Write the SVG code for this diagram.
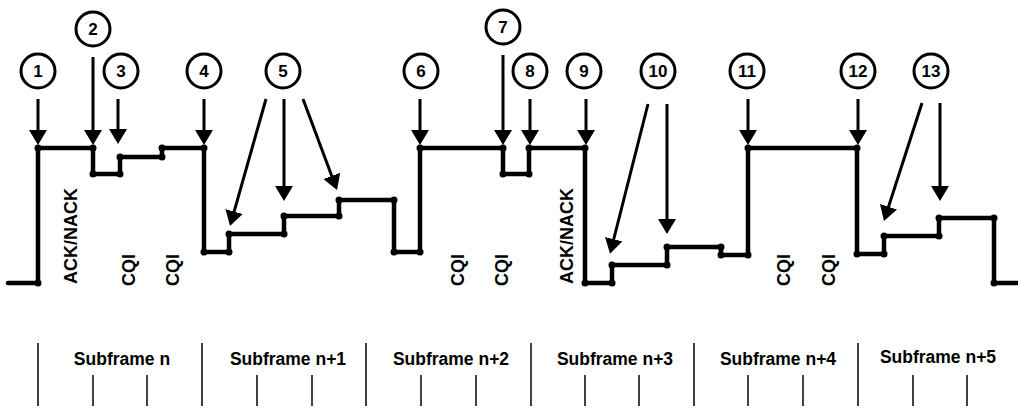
<svg xmlns="http://www.w3.org/2000/svg" width="1018" height="408" viewBox="0 0 1018 408">
<defs>
<style>
.bg{fill:#ffffff}
.wave{fill:none;stroke:#000;stroke-width:4.5;stroke-linejoin:round;stroke-linecap:round}
.dot{fill:#000}
.arr{stroke:#000;stroke-width:3;fill:none;marker-end:url(#ah)}
.circ{fill:#fff;stroke:#000;stroke-width:3}
.num{font-family:"Liberation Sans",Arial,sans-serif;font-weight:bold;font-size:17px;text-anchor:middle;fill:#000}
.vt{font-family:"Liberation Sans",Arial,sans-serif;font-weight:bold;font-size:18px;text-anchor:middle;fill:#000}
.sf{font-family:"Liberation Sans",Arial,sans-serif;font-weight:bold;font-size:17.5px;text-anchor:middle;fill:#000}
.tick{stroke:#000;stroke-width:1.5}
</style>
<marker id="ah" viewBox="0 0 15 18" refX="7" refY="9" markerWidth="15" markerHeight="18" markerUnits="userSpaceOnUse" orient="auto">
<path d="M0,0 L15,9 L0,18 z" fill="#000"/>
</marker>
</defs>
<rect class="bg" x="0" y="0" width="1018" height="408"/>

<g id="waveform">
<polyline class="wave" points="8,283 38,283 38,148 93,148 93,174 120,174 120,157 162,157 162,148 204,148 204,252 229,252 229,234 284,234 284,216 339,216 339,200 394,200 394,252 420,252 420,148 503,148 503,174 529,174 529,148 585,148 585,283 612,283 612,265 667,265 667,247 721,247 721,255 748,255 748,148 857,148 857,254 884,254 884,236 939,236 939,218 994,218 994,283 1020,283"/>
<g class="dot">
<circle cx="38" cy="283" r="3.5"/><circle cx="38" cy="148" r="3.5"/><circle cx="93" cy="148" r="3.5"/><circle cx="93" cy="174" r="3.5"/><circle cx="120" cy="174" r="3.5"/><circle cx="120" cy="157" r="3.5"/><circle cx="162" cy="157" r="3.5"/><circle cx="162" cy="148" r="3.5"/><circle cx="204" cy="148" r="3.5"/><circle cx="204" cy="252" r="3.5"/><circle cx="229" cy="252" r="3.5"/><circle cx="229" cy="234" r="3.5"/><circle cx="284" cy="234" r="3.5"/><circle cx="284" cy="216" r="3.5"/><circle cx="339" cy="216" r="3.5"/><circle cx="339" cy="200" r="3.5"/><circle cx="394" cy="200" r="3.5"/><circle cx="394" cy="252" r="3.5"/><circle cx="420" cy="252" r="3.5"/><circle cx="420" cy="148" r="3.5"/><circle cx="503" cy="148" r="3.5"/><circle cx="503" cy="174" r="3.5"/><circle cx="529" cy="174" r="3.5"/><circle cx="529" cy="148" r="3.5"/><circle cx="585" cy="148" r="3.5"/><circle cx="585" cy="283" r="3.5"/><circle cx="612" cy="283" r="3.5"/><circle cx="612" cy="265" r="3.5"/><circle cx="667" cy="265" r="3.5"/><circle cx="667" cy="247" r="3.5"/><circle cx="721" cy="247" r="3.5"/><circle cx="721" cy="255" r="3.5"/><circle cx="748" cy="255" r="3.5"/><circle cx="748" cy="148" r="3.5"/><circle cx="857" cy="148" r="3.5"/><circle cx="857" cy="254" r="3.5"/><circle cx="884" cy="254" r="3.5"/><circle cx="884" cy="236" r="3.5"/><circle cx="939" cy="236" r="3.5"/><circle cx="939" cy="218" r="3.5"/><circle cx="994" cy="218" r="3.5"/><circle cx="994" cy="283" r="3.5"/>
</g>
</g>

<g id="connectors">
<line class="arr" x1="38" y1="99" x2="38" y2="137"/>
<line class="arr" x1="93" y1="57" x2="93" y2="137"/>
<line class="arr" x1="118" y1="99" x2="118" y2="136"/>
<line class="arr" x1="204" y1="99" x2="204" y2="137"/>
<line class="arr" x1="266" y1="99" x2="232.2" y2="218.3"/>
<line class="arr" x1="284" y1="99" x2="284" y2="193"/>
<line class="arr" x1="303" y1="99" x2="334.2" y2="182.5"/>
<line class="arr" x1="420" y1="99" x2="420" y2="137"/>
<line class="arr" x1="503" y1="55" x2="503" y2="137"/>
<line class="arr" x1="530" y1="99" x2="530" y2="137"/>
<line class="arr" x1="586" y1="99" x2="586" y2="137"/>
<line class="arr" x1="648" y1="104" x2="612" y2="246"/>
<line class="arr" x1="667" y1="104" x2="667" y2="226"/>
<line class="arr" x1="748" y1="99" x2="748" y2="137"/>
<line class="arr" x1="858" y1="99" x2="858" y2="137"/>
<line class="arr" x1="922" y1="103" x2="886.4" y2="213.4"/>
<line class="arr" x1="940" y1="103" x2="940" y2="193"/>
</g>

<g id="node1"><circle class="circ" cx="38" cy="71" r="17"/><text class="num" x="38" y="77">1</text></g>
<g id="node2"><circle class="circ" cx="93" cy="29" r="17"/><text class="num" x="93" y="35">2</text></g>
<g id="node3"><circle class="circ" cx="121" cy="71" r="17"/><text class="num" x="121" y="77">3</text></g>
<g id="node4"><circle class="circ" cx="204" cy="71" r="17"/><text class="num" x="204" y="77">4</text></g>
<g id="node5"><circle class="circ" cx="283" cy="71" r="17"/><text class="num" x="283" y="77">5</text></g>
<g id="node6"><circle class="circ" cx="421" cy="71" r="17"/><text class="num" x="421" y="77">6</text></g>
<g id="node7"><circle class="circ" cx="503" cy="27" r="17"/><text class="num" x="503" y="33">7</text></g>
<g id="node8"><circle class="circ" cx="530" cy="71" r="17"/><text class="num" x="530" y="77">8</text></g>
<g id="node9"><circle class="circ" cx="584" cy="71" r="17"/><text class="num" x="584" y="77">9</text></g>
<g id="node10"><circle class="circ" cx="658" cy="71" r="17"/><text class="num" x="658" y="77">10</text></g>
<g id="node11"><circle class="circ" cx="747" cy="71" r="17"/><text class="num" x="747" y="77">11</text></g>
<g id="node12"><circle class="circ" cx="858" cy="71" r="17"/><text class="num" x="858" y="77">12</text></g>
<g id="node13"><circle class="circ" cx="931" cy="71" r="17"/><text class="num" x="931" y="77">13</text></g>

<g id="labels">
<text class="vt" transform="translate(70,236) rotate(-90)" x="0" y="6.5">ACK/NACK</text>
<text class="vt" transform="translate(128,270) rotate(-90)" x="0" y="6.5">CQI</text>
<text class="vt" transform="translate(172,270) rotate(-90)" x="0" y="6.5">CQI</text>
<text class="vt" transform="translate(457,270) rotate(-90)" x="0" y="6.5">CQI</text>
<text class="vt" transform="translate(501,270) rotate(-90)" x="0" y="6.5">CQI</text>
<text class="vt" transform="translate(566,236) rotate(-90)" x="0" y="6.5">ACK/NACK</text>
<text class="vt" transform="translate(783,270) rotate(-90)" x="0" y="6.5">CQI</text>
<text class="vt" transform="translate(828,270) rotate(-90)" x="0" y="6.5">CQI</text>
</g>

<g id="timeline">
<line class="tick" x1="38" y1="343" x2="38" y2="406"/>
<line class="tick" x1="202" y1="343" x2="202" y2="406"/>
<line class="tick" x1="366" y1="343" x2="366" y2="406"/>
<line class="tick" x1="531" y1="343" x2="531" y2="406"/>
<line class="tick" x1="694" y1="343" x2="694" y2="406"/>
<line class="tick" x1="858" y1="343" x2="858" y2="406"/>
<line class="tick" x1="93" y1="375" x2="93" y2="406"/>
<line class="tick" x1="147" y1="375" x2="147" y2="406"/>
<line class="tick" x1="257" y1="375" x2="257" y2="406"/>
<line class="tick" x1="312" y1="375" x2="312" y2="406"/>
<line class="tick" x1="421" y1="375" x2="421" y2="406"/>
<line class="tick" x1="476" y1="375" x2="476" y2="406"/>
<line class="tick" x1="585" y1="375" x2="585" y2="406"/>
<line class="tick" x1="639" y1="375" x2="639" y2="406"/>
<line class="tick" x1="748" y1="375" x2="748" y2="406"/>
<line class="tick" x1="803" y1="375" x2="803" y2="406"/>
<line class="tick" x1="913" y1="375" x2="913" y2="406"/>
<line class="tick" x1="967" y1="375" x2="967" y2="406"/>
<text class="sf" x="122" y="365">Subframe n</text>
<text class="sf" x="288" y="365">Subframe n+1</text>
<text class="sf" x="451" y="365">Subframe n+2</text>
<text class="sf" x="615" y="365">Subframe n+3</text>
<text class="sf" x="778" y="365">Subframe n+4</text>
<text class="sf" x="938" y="363">Subframe n+5</text>
</g>
</svg>
